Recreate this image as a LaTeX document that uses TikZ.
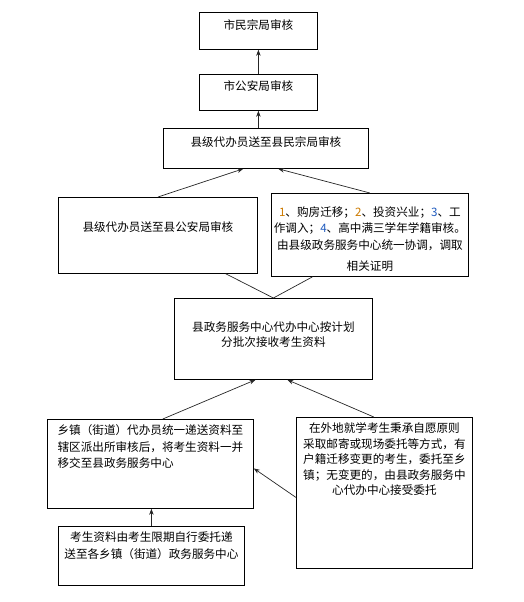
\documentclass[tikz,border=0pt]{standalone}
\usepackage{fontspec}
\setmainfont{Noto Sans CJK SC}
\usepackage{xcolor}
\usepackage{tikz}
\usetikzlibrary{arrows.meta, calc, positioning}
\definecolor{shuzichen}{RGB}{204,122,0}
\definecolor{shuzilan}{RGB}{30,90,190}
\newcommand{\duohang}[2]{\begin{tabular}[t]{@{}#1@{}}#2\end{tabular}}

\tikzset{
  kuang/.style={draw, line width=0.8pt, inner xsep=4pt, inner ysep=0pt,
    anchor=north west, font=\fontsize{11.6}{16.5}\selectfont},
  jiantou/.style={-{Stealth[length=6pt,width=4.5pt]}, line width=0.7pt, black!85},
  lianxian/.style={line width=0.7pt, black!85}
}

\begin{document}
\begin{tikzpicture}[x=1pt, y=-1pt]
  \useasboundingbox (0,0) rectangle (524,602);

  % Shi ji
  \node[kuang, minimum width=118pt, text height=17.5pt, text depth=19.5pt] (mzj) at (199,12) {市民宗局审核};
  \node[kuang, minimum width=118pt, text height=16.5pt, text depth=19.5pt] (gaj) at (199,74) {市公安局审核};

  % Xian ji
  \node[kuang, minimum width=205pt, text height=18pt, text depth=22pt] (xmzj) at (163,128) {县级代办员送至县民宗局审核};
  \node[kuang, minimum width=199pt, text height=34.5pt, text depth=41.5pt] (xgaj) at (58,197) {县级代办员送至县公安局审核};
  \node[kuang, minimum width=197pt, inner xsep=2pt, text height=23pt, text depth=60pt] (zhengming) at (271,193)
    {\duohang{c}{{\color{shuzichen}1}、购房迁移；{\color{shuzichen}2}、投资兴业；{\color{shuzilan}3}、工\\
     作调入；{\color{shuzilan}4}、高中满三学年学籍审核。\\
     由县级政务服务中心统一协调，调取\\[5pt]
     相关证明}};

  % Zhongxin
  \node[kuang, minimum width=198pt, text height=33.5pt, text depth=47.5pt,
    font=\fontsize{11.6}{15}\selectfont] (zhongxin) at (174,298)
    {\duohang{c}{县政务服务中心代办中心按计划\\分批次接收考生资料}};

  % Xiangzhen
  \node[kuang, minimum width=206pt, text height=15.5pt, text depth=73.5pt] (xiangzhen) at (47,419)
    {\duohang{l}{乡镇（街道）代办员统一递送资料至\\辖区派出所审核后，将考生资料一并\\移交至县政务服务中心}};
  \node[kuang, minimum width=176pt, inner xsep=2pt, text height=15.5pt, text depth=135.5pt,
    font=\fontsize{11.6}{15.5}\selectfont] (weituo) at (296,417)
    {\duohang{c}{在外地就学考生秉承自愿原则\\采取邮寄或现场委托等方式，有\\户籍迁移变更的考生，委托至乡\\镇；无变更的，由县政务服务中\\心代办中心接受委托}};
  \node[kuang, minimum width=186pt, text height=15.5pt, text depth=43.5pt] (kaosheng) at (58,526)
    {\duohang{c}{考生资料由考生限期自行委托递\\送至各乡镇（街道）政务服务中心}};

  % Jiantou
  \draw[jiantou] (gaj.north) -- (mzj.south);
  \draw[jiantou] (xmzj.north -| gaj.north) -- (gaj.south);
  \draw[jiantou] (xgaj.north) -- ($(xmzj.south west)!0.39!(xmzj.south east)$);
  \draw[jiantou] (zhengming.north) -- ($(xmzj.south west)!0.56!(xmzj.south east)$);
  \draw[lianxian] ($(xgaj.south west)!0.84!(xgaj.south east)$) -- (zhongxin.north);
  \draw[lianxian] ($(zhengming.south west)!0.21!(zhengming.south east)$) -- (zhongxin.north);
  \draw[jiantou] ($(xiangzhen.north west)!0.56!(xiangzhen.north east)$) -- ($(zhongxin.south west)!0.41!(zhongxin.south east)$);
  \draw[jiantou] ($(weituo.north west)!0.44!(weituo.north east)$) -- ($(zhongxin.south west)!0.57!(zhongxin.south east)$);
  \draw[jiantou] ($(weituo.north west)!0.53!(weituo.south west)$) -- ($(xiangzhen.north east)!0.55!(xiangzhen.south east)$);
  \draw[jiantou] (kaosheng.north) -- (kaosheng.north |- xiangzhen.south);
\end{tikzpicture}
\end{document}
